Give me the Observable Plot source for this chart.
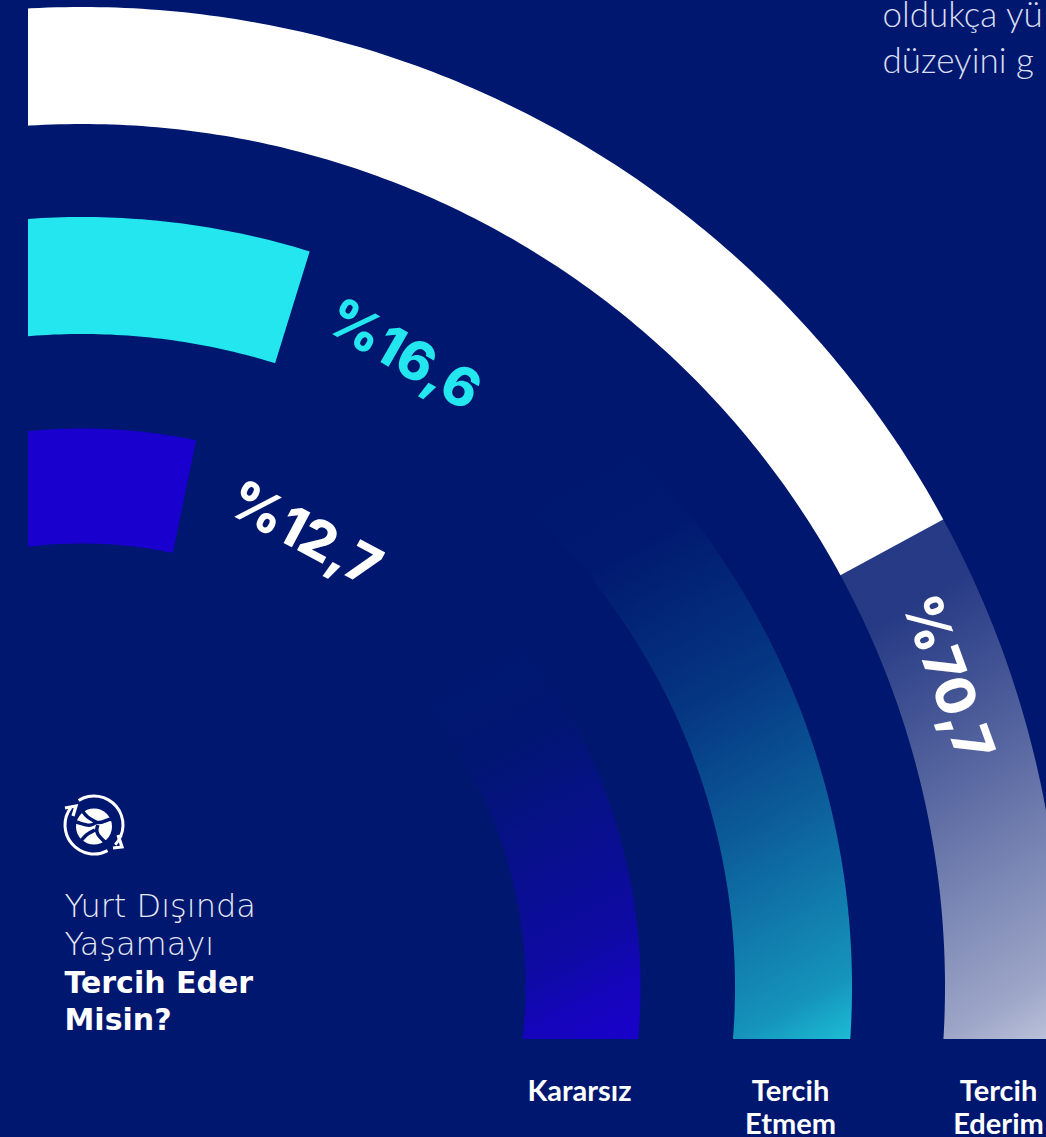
<!DOCTYPE html>
<html><head><meta charset="utf-8">
<script src="https://cdn.jsdelivr.net/npm/d3@7"></script>
<script src="https://cdn.jsdelivr.net/npm/@observablehq/plot@0.6"></script>
<style>html,body{margin:0;padding:0;background:#00176f;overflow:hidden}svg{display:block}</style>
</head><body><div id="chart"></div>
<script>
// Ring data, outermost first
const categories = ["Tercih Ederim", "Tercih Etmem", "Kararsız"];
const values = [70.7, 16.6, 12.7];
const valueLabels = ["%70,7", "%16,6", "%12,7"];
const sweepDegrees = [61.5, 17.2, 11.8];
const innerRadii = [863, 653, 443.5];
const outerRadii = [980, 770, 558.5];
const barColors = ["#ffffff", "#23e6ee", "#1a00cf"];
const labelColors = ["#ffffff", "#23e6ee", "#ffffff"];
const labelRadii = [918, 709, 504.5];
const labelAngles = [70.3, 26.9, 26.1];
const labelRotate = [70, 30, 28];

const BG = "#00176f";
const rad = d => d * Math.PI / 180;
function arc(i, from, to) {
  const pts = [];
  for (let a = from; a <= to + 1e-6; a += 0.5) pts.push({a});
  if (pts[pts.length - 1].a !== to) pts.push({a: to});
  return pts.map(({a}) => ({
    x1: innerRadii[i] * Math.sin(rad(a)), y1: innerRadii[i] * Math.cos(rad(a)),
    x2: outerRadii[i] * Math.sin(rad(a)), y2: outerRadii[i] * Math.cos(rad(a))
  }));
}
const band = (i, from, to, fill) => Plot.area(arc(i, from, to), {x1: "x1", y1: "y1", x2: "x2", y2: "y2", fill, clip: true});
const polar = categories.map((c, i) => ({
  label: valueLabels[i], color: labelColors[i], rotate: labelRotate[i],
  x: labelRadii[i] * Math.sin(rad(labelAngles[i])), y: labelRadii[i] * Math.cos(rad(labelAngles[i]))
}));

// Page text
const ledeLines = ["oldukça yü", "düzeyini g"];
const titleLight = ["Yurt Dışında", "Yaşamayı"];
const titleBold = ["Tercih Eder", "Misin?"];
const axisLabels = [["Kararsız"], ["Tercih", "Etmem"], ["Tercih", "Ederim"]];

const X = p => p - 82, Y = p => 987 - p; // pixel anchor → chart units
const textRows = [];
ledeLines.forEach((t, i) => textRows.push({t, x: X(882), y: Y(26 + 46 * i), k: "lede"}));
titleLight.forEach((t, i) => textRows.push({t, x: X(64), y: Y(916 + 38 * i), k: "light"}));
titleBold.forEach((t, i) => textRows.push({t, x: X(64), y: Y(992 + 37 * i), k: "bold"}));
const axisRows = [];
[579, 790, 998].forEach((cx, j) => axisLabels[j].forEach((t, i) => axisRows.push({t, x: X(cx), y: Y(1100 + 33 * i)})));

function icon() {
  const ns = "http://www.w3.org/2000/svg";
  const g = d3.select(document.createElementNS(ns, "g")).attr("transform", "translate(94,825)");
  const a = d3.arc().innerRadius(27.5).outerRadius(30.5);
  g.append("path").attr("fill", "#fff").attr("d", a({startAngle: rad(-32), endAngle: rad(133)}));
  g.append("path").attr("fill", "#fff").attr("d", a({startAngle: rad(152), endAngle: rad(307)}));
  g.append("path").attr("fill", "none").attr("stroke", "#fff").attr("stroke-width", 3.2).attr("d", "M19 23 L28 22 L24 10");
  g.append("path").attr("fill", "none").attr("stroke", "#fff").attr("stroke-width", 3.2).attr("d", "M-29 -17 L-18 -19 L-21 -9");
  g.append("circle").attr("r", 18).attr("cy", 1.5).attr("fill", "#fff");
  g.append("path").attr("fill", "none").attr("stroke", BG).attr("stroke-width", 3.5)
    .attr("d", "M-13 -18 C-10 -9 -4 -6 2 -3 C8 0 12 -7 20 -6 M2 -3 C-3 3 -10 -1 -18 -3 M4 0 C0 8 6 12 12 18 M-14 18 C-10 10 -5 8 1 5");
  return g.node();
}

const plot = Plot.plot({
  width: 1046, height: 1137,
  marginLeft: 28, marginRight: 0, marginTop: 0, marginBottom: 98,
  x: {type: "linear", domain: [-54, 964], axis: null},
  y: {type: "linear", domain: [-52, 987], axis: null},
  style: {background: BG, overflow: "hidden"},
  marks: [
    band(0, sweepDegrees[0], 100, "url(#fade0)"),
    band(1, sweepDegrees[1], 100, "url(#fade1)"),
    band(2, sweepDegrees[2], 100, "url(#fade2)"),
    ...categories.map((c, i) => band(i, -10, sweepDegrees[i], barColors[i])),
    Plot.text(polar, {x: "x", y: "y", text: "label", fill: "color", rotate: "rotate", fontFamily: "Inter", fontWeight: 800, fontSize: 54, textAnchor: "middle", lineAnchor: "middle", ariaLabel: "value"}),
    Plot.text(textRows.filter(d => d.k === "lede"), {x: "x", y: "y", text: "t", fill: "#d9def0", fontFamily: "Lato", fontWeight: 300, fontSize: 35, textAnchor: "start", lineAnchor: "bottom", ariaLabel: "lede"}),
    Plot.text(textRows.filter(d => d.k === "light"), {x: "x", y: "y", text: "t", fill: "#e6e9f5", fontFamily: "DejaVu Sans", fontWeight: 200, fontSize: 32, textAnchor: "start", lineAnchor: "bottom", ariaLabel: "light"}),
    Plot.text(textRows.filter(d => d.k === "bold"), {x: "x", y: "y", text: "t", fill: "#fff", fontFamily: "DejaVu Sans", fontWeight: 700, fontSize: 30, textAnchor: "start", lineAnchor: "bottom", ariaLabel: "bold"}),
    Plot.text(axisRows, {x: "x", y: "y", text: "t", fill: "#fff", fontFamily: "Lato", fontWeight: 700, fontSize: 29, textAnchor: "middle", lineAnchor: "bottom", ariaLabel: "axis"}),
    icon
  ]
});

// Gradients for the faded remainder of each ring
const defs = d3.select(plot).insert("defs", ":first-child");
[
  {id: "fade0", c: "#ffffff", p: [850, 640, 1090, 1040], s: [[0, .15], [.4, .36], [.84, .62], [1, .78]]},
  {id: "fade1", c: "#23e6ee", p: [560, 470, 890, 1060], s: [[0, 0], [.15, .01], [.4, .15], [.6, .33], [.86, .6], [.945, .8], [1, .88]]},
  {id: "fade2", c: "#1a00cf", p: [430, 620, 650, 1050], s: [[0, 0], [.3, .03], [.46, .22], [.75, .55], [.86, .8], [1, 1]]}
].forEach(g => {
  const lg = defs.append("linearGradient").attr("id", g.id).attr("gradientUnits", "userSpaceOnUse")
    .attr("x1", g.p[0]).attr("y1", g.p[1]).attr("x2", g.p[2]).attr("y2", g.p[3]);
  g.s.forEach(([o, a]) => lg.append("stop").attr("offset", o).attr("stop-color", g.c).attr("stop-opacity", a));
});
const spacing = {lede: "3.4px", light: "2.2px", bold: "1.2px", value: "1px", axis: "1px"};
Object.entries(spacing).forEach(([k, v]) => plot.querySelectorAll(`g[aria-label="${k}"], g[aria-label="${k}"] text`).forEach(n => n.style.letterSpacing = v));
document.getElementById("chart").appendChild(plot);
</script></body></html>
